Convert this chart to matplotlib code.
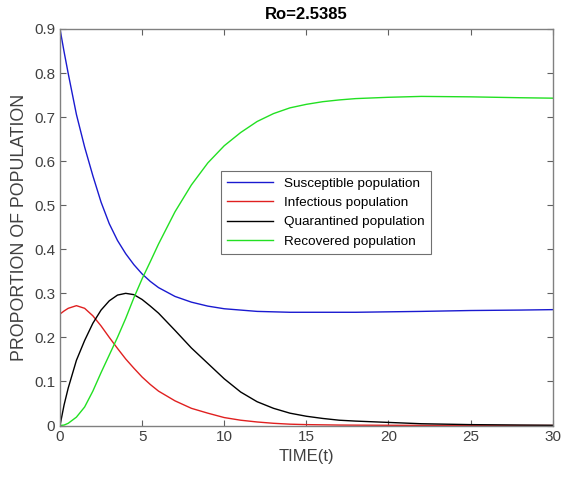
import numpy as np
import matplotlib
matplotlib.use("Agg")
import matplotlib.pyplot as plt

plt.rcParams['font.family'] = ['Liberation Sans', 'DejaVu Sans']

# values
t = [0, 0.25, 0.5, 1, 1.5, 2, 2.5, 3, 3.5, 4, 4.5, 5, 5.5, 6, 7, 8, 9, 10,
     11, 12, 13, 14, 15, 16, 17, 18, 20, 22, 25, 28, 30]
susceptible = [0.900, 0.848, 0.799, 0.706, 0.632, 0.567, 0.507, 0.458, 0.420, 0.390, 0.365,
               0.344, 0.327, 0.313, 0.293, 0.280, 0.271, 0.265,
               0.262, 0.259, 0.258, 0.257, 0.257, 0.257, 0.257, 0.257, 0.258, 0.259, 0.261, 0.262, 0.263]
infectious = [0.253, 0.260, 0.266, 0.272, 0.266, 0.249, 0.226, 0.200, 0.175, 0.151, 0.130,
              0.110, 0.093, 0.078, 0.056, 0.039, 0.028, 0.018,
              0.012, 0.008, 0.005, 0.003, 0.002, 0.0015, 0.001, 0.0008, 0.0005, 0.0003, 0.0002, 0.0001, 0.0]
quarantined = [0.0, 0.047, 0.085, 0.148, 0.193, 0.232, 0.262, 0.283, 0.296, 0.300, 0.297,
               0.286, 0.271, 0.255, 0.216, 0.176, 0.141, 0.106,
               0.076, 0.054, 0.039, 0.028, 0.021, 0.016, 0.012, 0.010, 0.007, 0.004, 0.002, 0.001, 0.0005]
recovered = [0.0, 0.001, 0.005, 0.019, 0.042, 0.078, 0.120, 0.160, 0.200, 0.243, 0.290,
             0.333, 0.372, 0.412, 0.485, 0.546, 0.596, 0.635,
             0.665, 0.690, 0.708, 0.721, 0.729, 0.735, 0.739, 0.742, 0.745, 0.747, 0.746, 0.744, 0.743]

labels = ['Susceptible population', 'Infectious population',
          'Quarantined population', 'Recovered population']

fig = plt.figure(figsize=(5.62, 4.79), dpi=100)
ax = fig.add_axes([60 / 562, 53.5 / 479, 492.7 / 562, 396.5 / 479])

ax.plot(t, susceptible, color='#1a1ad0', lw=1.0, label=labels[0])
ax.plot(t, infectious, color='#e02020', lw=1.0, label=labels[1])
ax.plot(t, quarantined, color='black', lw=1.0, label=labels[2])
ax.plot(t, recovered, color='#22e022', lw=1.0, label=labels[3])

ax.set_xlim(0, 30)
ax.set_ylim(0, 0.9)
ax.set_xticks(np.arange(0, 31, 5))
ax.set_yticks(np.arange(0, 0.91, 0.1))
ax.set_yticklabels(['0', '0.1', '0.2', '0.3', '0.4', '0.5', '0.6', '0.7', '0.8', '0.9'])

for sp in ax.spines.values():
    sp.set_color('#808080')
    sp.set_linewidth(1.0)
ax.tick_params(direction='in', top=True, right=True, length=4, width=0.8,
               color='#606060', labelcolor='#404040', labelsize=11)

ax.set_title('Ro=2.5385', fontsize=12, fontweight='bold', pad=7)
ax.set_xlabel('TIME(t)', fontsize=12, color='#404040', labelpad=3)
ax.set_ylabel('PROPORTION OF POPULATION', fontsize=12.8, color='#404040', labelpad=4)

leg = ax.legend(loc='center', bbox_to_anchor=(0.540, 0.537), fontsize=9.7,
                fancybox=False, framealpha=1, edgecolor='#707070',
                handlelength=3.4, labelspacing=0.5, borderpad=0.5)
leg.get_frame().set_linewidth(0.8)

fig.savefig('out.png', dpi=100)
